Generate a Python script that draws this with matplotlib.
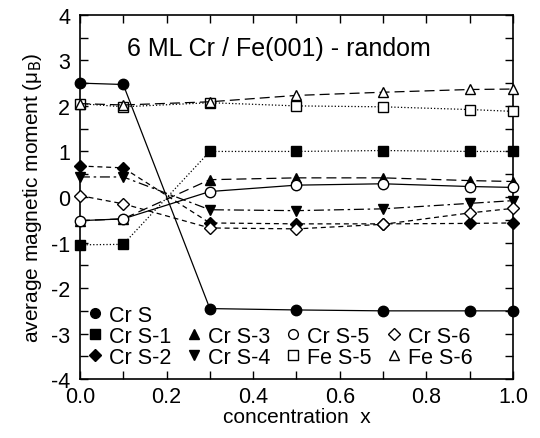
import matplotlib.pyplot as plt
from matplotlib.lines import Line2D
from matplotlib.ticker import MultipleLocator

plt.rcParams['font.family'] = ['Liberation Sans', 'DejaVu Sans']
plt.rcParams['axes.unicode_minus'] = False

x = [0.0, 0.1, 0.3, 0.5, 0.7, 0.9, 1.0]

cr_s = [2.50, 2.47, -2.45, -2.48, -2.50, -2.50, -2.50]
cr_s1 = [-1.05, -1.04, 1.00, 1.00, 1.02, 1.00, 1.00]
cr_s2 = [0.68, 0.64, -0.57, -0.59, -0.59, -0.58, -0.57]
cr_s3 = [-0.52, -0.48, 0.38, 0.42, 0.42, 0.36, 0.34]
cr_s4 = [0.44, 0.44, -0.28, -0.30, -0.26, -0.14, -0.08]
cr_s5 = [-0.52, -0.48, 0.12, 0.26, 0.29, 0.23, 0.21]
cr_s6 = [0.03, -0.15, -0.68, -0.70, -0.60, -0.35, -0.25]
fe_s5 = [2.05, 1.98, 2.07, 2.00, 1.98, 1.92, 1.88]
fe_s6 = [2.05, 2.02, 2.09, 2.23, 2.30, 2.36, 2.37]

fig = plt.figure(figsize=(5.4, 4.39), dpi=100)
ax = fig.add_axes([0.148, 0.134, 0.802, 0.830])

lw = 0.9
ms = 7.5
series = [
    (cr_s, 'o', 'k', '-', 'Cr S'),
    (cr_s1, 's', 'k', ':', 'Cr S-1'),
    (cr_s2, 'D', 'k', (0, (4, 3)), 'Cr S-2'),
    (cr_s3, '^', 'k', (0, (8, 4)), 'Cr S-3'),
    (cr_s4, 'v', 'k', (0, (8, 3, 2, 3)), 'Cr S-4'),
    (cr_s5, 'o', 'w', '-', 'Cr S-5'),
    (cr_s6, 'D', 'w', (0, (4, 3)), 'Cr S-6'),
    (fe_s5, 's', 'w', ':', 'Fe S-5'),
    (fe_s6, '^', 'w', (0, (8, 4)), 'Fe S-6'),
]

handles = {}
for y, m, fc, ls, lab in series:
    size = ms - 1 if m == 'D' else ms
    ax.plot(x, y, color='k', lw=lw, linestyle=ls, marker=m, markersize=size,
            markerfacecolor=fc, markeredgecolor='k', markeredgewidth=1.0,
            clip_on=False, zorder=3)
    handles[lab] = Line2D([], [], linestyle='none', marker=m, markersize=7 if m != 'D' else 6,
                          markerfacecolor=fc, markeredgecolor='k', markeredgewidth=1.0)

blank = Line2D([], [], linestyle='none')
order = [handles['Cr S'], handles['Cr S-1'], handles['Cr S-2'],
         blank, handles['Cr S-3'], handles['Cr S-4'],
         blank, handles['Cr S-5'], handles['Fe S-5'],
         blank, handles['Cr S-6'], handles['Fe S-6']]
labels = ['Cr S', 'Cr S-1', 'Cr S-2',
          '', 'Cr S-3', 'Cr S-4',
          '', 'Cr S-5', 'Fe S-5',
          '', 'Cr S-6', 'Fe S-6']
ax.legend(order, labels, ncol=4, loc='lower left', bbox_to_anchor=(-0.015, -0.01),
          frameon=False, fontsize=15.5, handlelength=0.6, handletextpad=0.35,
          columnspacing=0.75, labelspacing=0.0, borderaxespad=0.3)

ax.set_xlim(0, 1)
ax.set_ylim(-4, 4)
ax.xaxis.set_major_locator(MultipleLocator(0.2))
ax.xaxis.set_minor_locator(MultipleLocator(0.1))
ax.yaxis.set_major_locator(MultipleLocator(1))
ax.yaxis.set_minor_locator(MultipleLocator(0.5))
ax.xaxis.set_major_formatter(plt.FormatStrFormatter('%.1f'))
ax.tick_params(which='both', direction='in', top=True, right=True, labelsize=15.5, width=1)
ax.tick_params(which='major', length=6)
ax.tick_params(which='minor', length=6)
ax.tick_params(axis='x', pad=5)
ax.tick_params(axis='y', pad=7)
for s in ax.spines.values():
    s.set_linewidth(1.2)

ax.set_xlabel('concentration  x', fontsize=15, labelpad=0)
ax.set_ylabel('average magnetic moment (μ$_{\\rm B}$)', fontsize=15, labelpad=5)
ax.text(0.46, 0.91, '6 ML Cr / Fe(001) - random', transform=ax.transAxes,
        ha='center', va='center', fontsize=18)

fig.savefig('out.png', dpi=100)
